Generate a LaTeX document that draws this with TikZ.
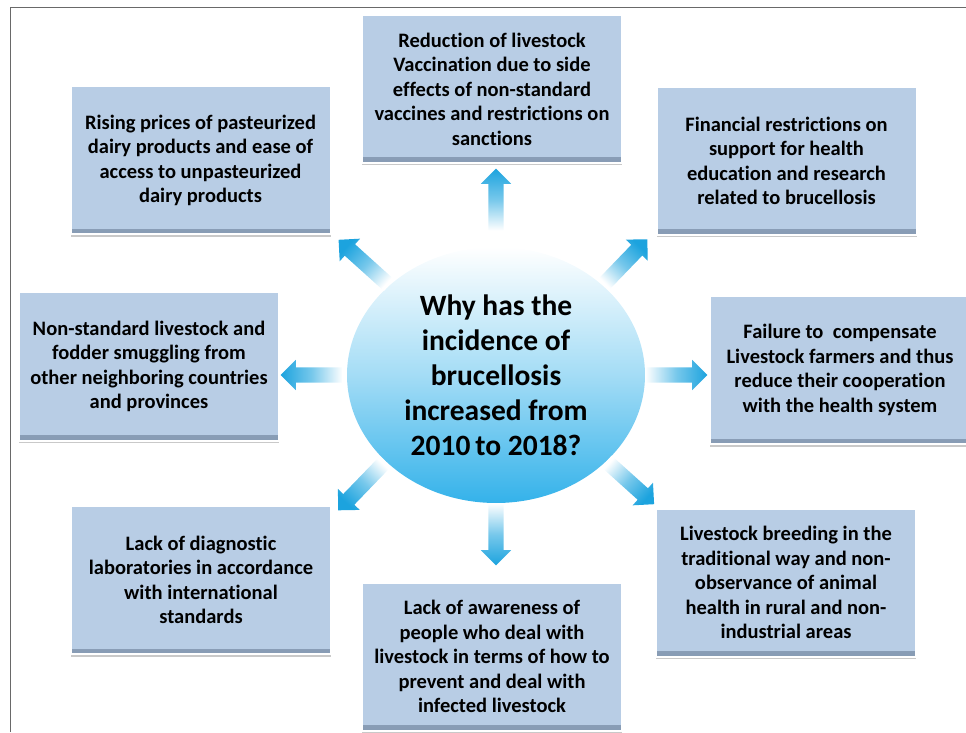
\documentclass[tikz,border=0pt]{standalone}
\usepackage{fontspec}
\setmainfont{Carlito}[Ligatures=NoCommon]
\usetikzlibrary{shapes.geometric,shapes.arrows,shadows}

\definecolor{boxblue}{RGB}{184,205,229}
\definecolor{boxedge}{RGB}{135,155,180}
\definecolor{arrowblue}{RGB}{28,163,222}
\definecolor{ballblue}{RGB}{52,178,234}
\definecolor{framegray}{RGB}{105,105,105}

\tikzset{
  causebox/.style={rectangle, fill=boxblue, draw=white, line width=2pt,
    minimum width=260pt, minimum height=148pt, inner sep=0pt, align=center,
    font=\bfseries\fontsize{20.5}{24.5}\selectfont,
    drop shadow={shadow xshift=0pt, shadow yshift=-2.5pt, opacity=.3, fill=black!70},
    path picture={\shade[top color=boxblue, bottom color=boxedge]
      ([yshift=5pt]path picture bounding box.south west) rectangle (path picture bounding box.south east);}},
  question/.style={ellipse, minimum width=298pt, minimum height=256pt, inner sep=0pt,
    align=center, top color=white, bottom color=ballblue, middle color=ballblue!45,
    font=\bfseries\fontsize{29.5}{35}\selectfont},
  fatarrow/.style={single arrow, draw=none, minimum height=62pt, minimum width=30pt,
    single arrow head extend=7.5pt, inner xsep=0pt, inner ysep=7.5pt,
    top color=arrowblue, bottom color=white, middle color=arrowblue!60}
}

\begin{document}
\begin{tikzpicture}[x=1pt, y=1pt]
    \useasboundingbox (0,0) rectangle (966,732);

    \draw[framegray, line width=1pt] (10,0) -- (10,724) -- (966,724);

    \node[question] (why) at (496,357) {Why has the\\incidence of\\brucellosis\\increased from\\2010\,to 2018?};

    \node[causebox] (vaccbox) at (492,643) {Reduction of livestock\\Vaccination due to side\\effects of non-standard\\vaccines and restrictions on\\sanctions};
    \node[causebox] (risebox) at (200.5,571.5) {Rising prices of pasteurized\\dairy products and ease of\\access to unpasteurized\\dairy products};
    \node[causebox] (fundbox) at (786.5,571) {Financial restrictions on\\support for health\\education and research\\related to brucellosis};
    \node[causebox] (smugbox) at (149,365.5) {Non-standard livestock and\\fodder smuggling from\\other neighboring countries\\and provinces};
    \node[causebox] (compbox) at (840,362) {Failure to~~compensate\\Livestock farmers and thus\\reduce their cooperation\\with the health system};
    \node[causebox] (labbox) at (201,152) {Lack of diagnostic\\laboratories in accordance\\with international\\standards};
    \node[causebox] (awarebox) at (492,75.5) {Lack of awareness of\\people who deal with\\livestock in terms of how to\\prevent and deal with\\infected livestock};
    \node[causebox] (breedbox) at (786,149.5) {Livestock breeding in the\\traditional way and non-\\observance of animal\\health in rural and non-\\industrial areas};

    % arrows out of the question
    \node[fatarrow, anchor=tail, rotate=90, shading angle=0] (uparrow) at ([yshift=16pt]why.north) {};
    \node[fatarrow, anchor=tail, rotate=270, shading angle=180] (downarrow) at (why.south) {};
    \node[fatarrow, anchor=tail, rotate=180, shading angle=90] (leftarrow) at ([xshift=-4pt]why.west) {};
    \node[fatarrow, anchor=tail, rotate=0, shading angle=-90] (rightarrow) at (why.east) {};
    \node[fatarrow, anchor=tail, rotate=138, shading angle=48, minimum height=68pt] (ularrow) at (why.140) {};
    \node[fatarrow, anchor=tail, rotate=46, shading angle=-44, minimum height=64pt] (urarrow) at (why.40) {};
    \node[fatarrow, anchor=tail, rotate=226, shading angle=136, minimum height=68pt] (llarrow) at (why.218) {};
    \node[fatarrow, anchor=tail, rotate=-42, shading angle=-132, minimum height=64pt] (lrarrow) at (why.-38) {};
\end{tikzpicture}
\end{document}
